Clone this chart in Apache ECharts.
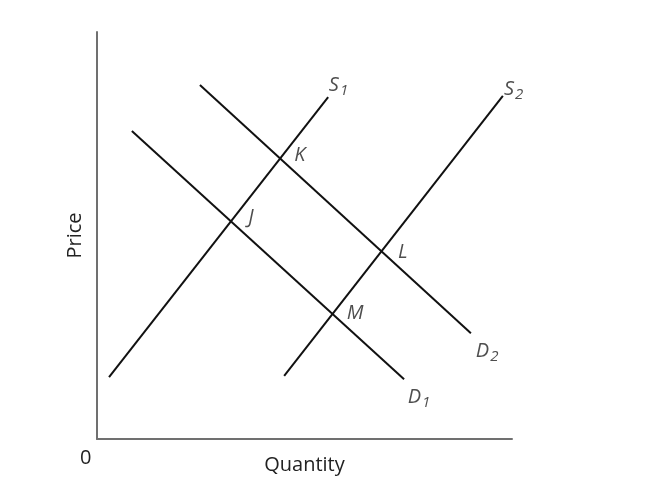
<!DOCTYPE html>
<html>
<head>
<meta charset="UTF-8">
<script src="https://cdn.jsdelivr.net/npm/echarts@6/dist/echarts.min.js"></script>
<style>
  html, body { margin: 0; padding: 0; background: #fff; }
  #chart { width: 653px; height: 497px; }
</style>
</head>
<body>
<div id="chart"></div>
<script>
// curve end points (quantity, price) in 0..100 units
const s1 = [[2.9, 15.2], [55.7, 84.0]];
const s2 = [[45.1, 15.5], [97.8, 84.3]];
const d1 = [[8.4, 75.7], [74.0, 14.7]];
const d2 = [[24.8, 87.0], [90.1, 26.0]];

// text labels: [x, y, text]
const curveLabels = [
    [58.2, 87.0, 'S{sub|1}'],
    [100.4, 86.0, 'S{sub|2}'],
    [94.0, 21.5, 'D{sub|2}'],
    [77.6, 10.3, 'D{sub|1}']
];
const pointLabels = [
    [48.9, 69.8, 'K'],
    [37.1, 54.5, 'J'],
    [73.7, 45.9, 'L'],
    [62.2, 31.0, 'M']
];

const font = 'Open Sans';
const lineStyle = { color: '#111', width: 2 };

function curve(data) {
    return {
        type: 'line',
        data: data,
        symbol: 'none',
        lineStyle: lineStyle,
        silent: true,
        clip: false
    };
}

function textSeries(data) {
    return {
        type: 'scatter',
        symbolSize: 0,
        clip: false,
        silent: true,
        data: data.map(d => ({ value: [d[0], d[1]], name: d[2] })),
        label: {
            show: true,
            position: 'inside',
            formatter: p => p.name,
            fontFamily: font,
            fontStyle: 'italic',
            fontSize: 20,
            color: '#222',
            rich: {
                sub: {
                    fontFamily: font,
                    fontStyle: 'italic',
                    fontSize: 15,
                    color: '#222',
                    verticalAlign: 'bottom',
                    padding: [11, 0, 0, 1]
                }
            }
        }
    };
}

const chart = echarts.init(document.getElementById('chart'));
chart.setOption({
    animation: false,
    grid: { left: 97, top: 32, right: 141, bottom: 58 },
    xAxis: {
        type: 'value', min: 0, max: 100,
        name: 'Quantity', nameLocation: 'middle', nameGap: 16,
        nameTextStyle: { fontFamily: font, fontSize: 20, color: '#222' },
        axisLine: { lineStyle: { color: '#707070', width: 2 } },
        axisTick: { show: false }, axisLabel: { show: false }, splitLine: { show: false }
    },
    yAxis: {
        type: 'value', min: 0, max: 100,
        name: 'Price', nameLocation: 'middle', nameGap: 12,
        nameTextStyle: { fontFamily: font, fontSize: 20, color: '#222' },
        axisLine: { lineStyle: { color: '#707070', width: 2 } },
        axisTick: { show: false }, axisLabel: { show: false }, splitLine: { show: false }
    },
    graphic: [{
        type: 'text', left: 80, top: 448,
        style: { text: '0', font: '20px "Open Sans"', fill: '#222' }
    }],
    series: [
        curve(s1), curve(s2), curve(d1), curve(d2),
        textSeries(curveLabels), textSeries(pointLabels)
    ]
});
</script>
</body>
</html>
